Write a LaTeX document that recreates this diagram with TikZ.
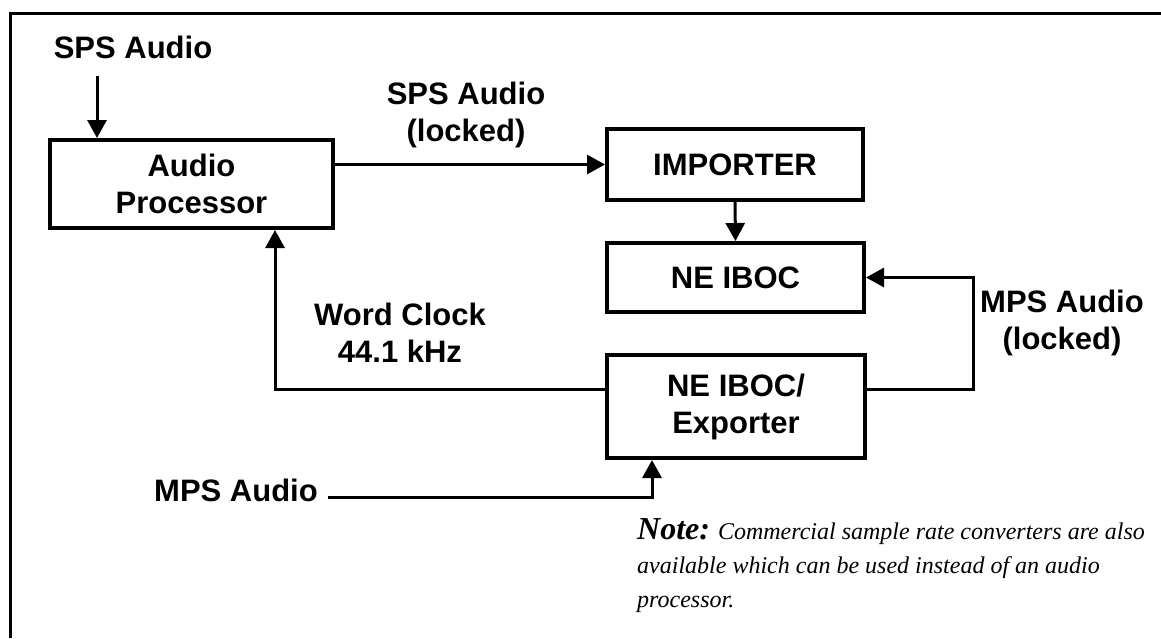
\documentclass[tikz,border=0pt]{standalone}
\usepackage{fontspec}
\setmainfont{Liberation Serif}
\setsansfont{Liberation Sans}
\usetikzlibrary{arrows.meta}
\begin{document}
\begin{tikzpicture}[x=1pt,y=-1pt,
  box/.style={draw,line width=4pt,minimum width=#1,inner sep=0pt,align=center,
    font=\sffamily\bfseries\fontsize{31}{37}\selectfont},
  lbl/.style={inner sep=0pt,align=center,font=\sffamily\bfseries\fontsize{31}{37}\selectfont},
  arr/.style={line width=3pt,-{Triangle[width=19pt,length=18pt]}},
  frame/.style={line width=3pt}]
\useasboundingbox (0,0) rectangle (1161,638);
\fill[white] (0,0) rectangle (1161,638);
\draw[frame] (10,638) -- (10,13) -- (1161,13);

\node[box=283pt,minimum height=88pt] (ap) at (191.5,184) {Audio\\Processor};
\node[box=256pt,minimum height=71pt] (imp) at (735,164.5) {IMPORTER};
\node[box=257pt,minimum height=69pt] (ne) at (735.5,277.5) {NE IBOC};
\node[box=258pt,minimum height=103pt] (exp) at (736,406.5) {NE IBOC/\\Exporter};

\node[lbl] (spsin) at (133,47) {SPS Audio};
\node[lbl] (spslock) at (466,114.5) {SPS Audio\\(locked)};
\node[lbl] (wcl) at (400,333) {Word Clock\\44.1 kHz};
\node[lbl] (mpslock) at (1062,323) {MPS Audio\\(locked)};
\node[lbl] (mps) at (236,490) {MPS Audio};

\coordinate (spsa) at (97,76);
\coordinate (fb) at (973,389);
\coordinate (wc) at (275,389);
\coordinate (mpsl) at (328,497);
\coordinate (mpsc) at (652,497);

\draw[arr] (spsa) -- (spsa |- ap.north);
\draw[arr] (ap.east |- imp.west) -- (imp.west);
\draw[arr] (imp.south) -- (ne.north);
\draw[arr] (exp.east |- fb) -- (fb) |- (ne.east);
\draw[arr] (exp.west |- wc) -- (wc) -- (wc |- ap.south);
\draw[arr] (mpsl) -- (mpsc) -- (mpsc |- exp.south);

\node[anchor=base west,inner sep=0pt,align=left,
  font=\rmfamily\itshape\fontsize{24}{34}\selectfont] (note) at (637,607)
  {{\bfseries\fontsize{32}{34}\selectfont Note:} Commercial sample rate converters are also\\
   available which can be used instead of an audio\\
   processor.};
\end{tikzpicture}
\end{document}
